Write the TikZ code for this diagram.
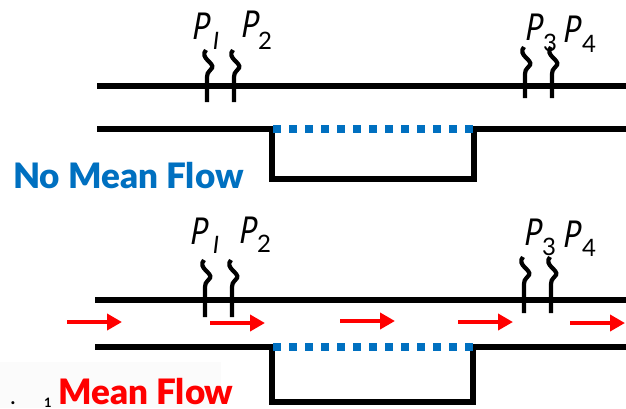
\documentclass[tikz,border=0pt]{standalone}
\usepackage{fontspec}
\usepackage{color}
\setmainfont{Lato}
\newfontfamily\titlefont{Lato Black}
\newfontfamily\plabelfont[FakeStretch=0.82,FakeSlant=0.08]{Lato Italic}
\definecolor{flowblue}{RGB}{0,112,192}
\definecolor{specklegray}{RGB}{251,251,251}
\usetikzlibrary{arrows.meta}
\tikzset{
	wall/.style={line width=5.5pt, line join=miter},
	liner/.style={flowblue, line width=7.5pt, dash pattern=on 8pt off 8pt},
	tap/.style={line width=4.2pt},
	flow/.style={red, line width=4.5pt, -{Triangle[length=15pt,width=16pt]}},
	plabel/.style={font=\fontsize{37}{37}\plabelfont, inner sep=0pt},
	subnum/.style={font=\fontsize{24}{24}\selectfont, inner sep=0pt},
	title/.style={font=\fontsize{35}{36}\titlefont, inner sep=0pt}
}
\newcommand{\taptube}[4]{
	\coordinate (#1a) at (#2-1,#3);
	\coordinate (#1b) at (#2,#3+27);
	\coordinate (#1c) at (#2,#4);
	\draw[tap] (#1a) .. controls (#2-8,#3+8) and (#2+8,#3+13) .. (#2+5,#3+18)
		.. controls (#2+4,#3+21) and (#2,#3+21) .. (#1b) -- (#1c);
}
\begin{document}
\begin{tikzpicture}[x=1pt, y=-1pt]
		\useasboundingbox (0,0) rectangle (626,408);
		\fill[specklegray] (0,362) rectangle (221,408);
		% no flow
		\coordinate (A1) at (97,86);
		\coordinate (A2) at (626,86);
		\coordinate (B1) at (97,129);
		\coordinate (B2) at (272,129);
		\coordinate (B3) at (272,179);
		\coordinate (B4) at (474,179);
		\coordinate (B5) at (474,129);
		\coordinate (B6) at (626,129);
		\draw[wall] (A1) -- (A2);
		\draw[wall] (B1) -- (B2) -- (B3) -- (B4) -- (B5) -- (B6);
		\coordinate (L1) at (273,129);
		\draw[liner] (L1) -- (B5);
		\taptube{T1}{207}{50}{102}
		\taptube{T2}{234}{50}{102}
		\taptube{T3}{525}{47}{98}
		\taptube{T4}{552}{47}{98}
		\node[plabel] (p1) at (201,26) {P};
		\node[subnum, font=\fontsize{24}{24}\selectfont\itshape] (s1) at (216,41) {I};
		\node[plabel] (p2) at (250,24) {P};
		\node[subnum] (s2) at (265,41) {2};
		\node[plabel] (p3) at (534,27) {P};
		\node[subnum] (s3) at (550,43) {3};
		\node[plabel] (p4) at (572,29) {P};
		\node[subnum] (s4) at (589,44) {4};
		\node[title, flowblue, anchor=west] (noflow) at (13,176) {No Mean Flow};
		% mean flow
		\coordinate (C1) at (95,300);
		\coordinate (C2) at (626,300);
		\coordinate (D1) at (95,347);
		\coordinate (D2) at (272,347);
		\coordinate (D3) at (272,402);
		\coordinate (D4) at (473,402);
		\coordinate (D5) at (473,347);
		\coordinate (D6) at (626,347);
		\draw[wall] (C1) -- (C2);
		\draw[wall] (D1) -- (D2) -- (D3) -- (D4) -- (D5) -- (D6);
		\coordinate (L2) at (273,347);
		\draw[liner] (L2) -- (D5);
		\taptube{T5}{205}{260}{317}
		\taptube{T6}{232}{260}{317}
		\taptube{T7}{524}{257}{313}
		\taptube{T8}{551}{257}{313}
		\node[plabel] (p5) at (199,231) {P};
		\node[subnum, font=\fontsize{24}{24}\selectfont\itshape] (s5) at (216,245) {I};
		\node[plabel] (p6) at (248,230) {P};
		\node[subnum] (s6) at (264,244) {2};
		\node[plabel] (p7) at (533,232) {P};
		\node[subnum] (s7) at (549,247) {3};
		\node[plabel] (p8) at (572,234) {P};
		\node[subnum] (s8) at (589,248) {4};
		\foreach \x/\y in {67/322, 210/323, 340/321, 458/322, 570/323}
			\draw[flow] (\x,\y) -- (\x+55,\y);
		\node[title, red, anchor=west] (meanflow) at (58,392) {Mean Flow};
		\node[inner sep=0pt, font=\fontsize{20}{20}\bfseries, anchor=base] (dot) at (13,404) {.};
		\node[inner sep=0pt, font=\fontsize{13}{13}\bfseries, anchor=base] (one) at (48,407) {1};
		\end{tikzpicture}
\end{document}
